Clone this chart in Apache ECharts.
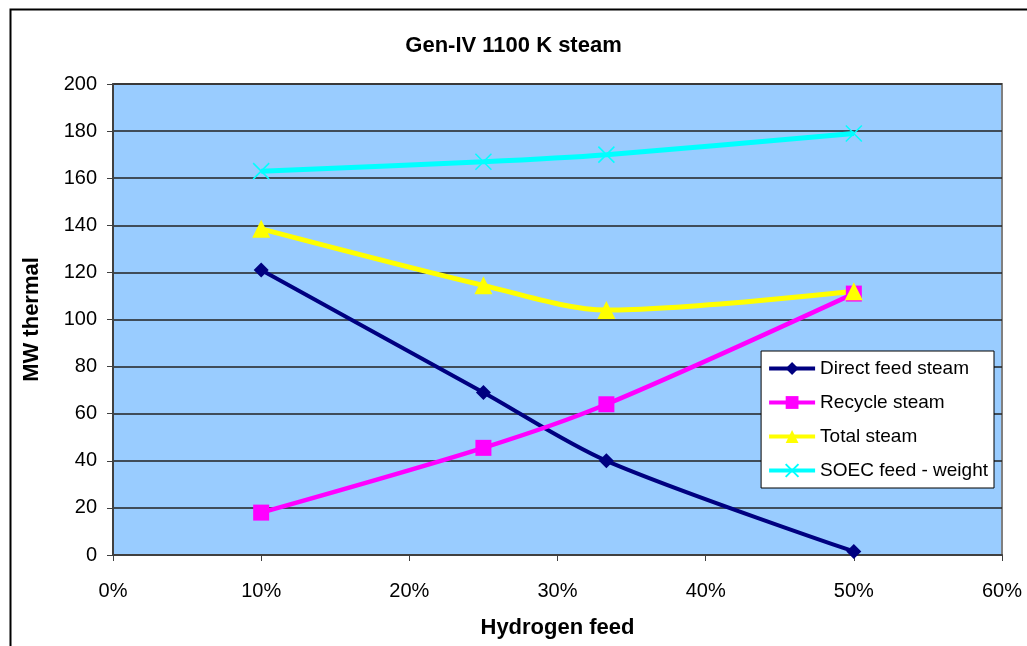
<!DOCTYPE html>
<html>
<head>
<meta charset="utf-8">
<script src="https://cdn.jsdelivr.net/npm/echarts@6/dist/echarts.min.js"></script>
<style>
  html, body { margin: 0; padding: 0; background: #fff; }
  #chart { width: 1027px; height: 646px; }
</style>
</head>
<body>
<div id="chart"></div>
<script>
  // hydrogen feed fraction (%)
  var feed = [10, 25, 33.3, 50];
  var directFeed = [121, 69, 40, 1.5];
  var recycle = [18, 45.5, 64, 111];
  var totalSteam = [138.5, 114.5, 104, 112];
  var soecFeed = [163, 167, 170, 179];

  function pairs(ys) {
    return feed.map(function (x, i) { return [x, ys[i]]; });
  }

  var font = 'Liberation Sans, Arial, sans-serif';
  var chart = echarts.init(document.getElementById('chart'));

  var option = {
    animation: false,
    backgroundColor: '#fff',
    textStyle: { fontFamily: font },
    graphic: [
      // outer chart frame
      {
        type: 'rect', left: 8, top: 7, z: -1,
        shape: { width: 1040, height: 700 },
        style: { fill: 'none', stroke: '#000', lineWidth: 2 }
      }
    ],
    title: {
      text: 'Gen-IV 1100 K steam',
      left: 'center', top: 30,
      textStyle: { fontFamily: font, fontSize: 22, fontWeight: 'bold', color: '#000' }
    },
    grid: {
      left: 113, top: 84, right: 25, bottom: 91,
      show: true, backgroundColor: '#99ccff', borderColor: '#808080', borderWidth: 2
    },
    legend: {
      orient: 'vertical',
      right: 33, top: 351,
      backgroundColor: '#fff', borderColor: '#000', borderWidth: 1,
      padding: [8, 6, 8, 6],
      itemGap: 15,
      itemWidth: 46, itemHeight: 16,
      lineStyle: { width: 4 },
      textStyle: { fontFamily: font, fontSize: 19, color: '#000' },
      data: ['Direct feed steam', 'Recycle steam', 'Total steam', 'SOEC feed - weight']
    },
    xAxis: {
      type: 'value', min: 0, max: 60, interval: 10,
      name: 'Hydrogen feed', nameLocation: 'middle', nameGap: 62,
      nameTextStyle: { fontFamily: font, fontSize: 22, fontWeight: 'bold', color: '#000' },
      axisLine: { lineStyle: { color: '#404040', width: 2 } },
      axisTick: { show: true, length: 6, lineStyle: { color: '#404040' } },
      axisLabel: { formatter: '{value}%', fontSize: 20, color: '#000', margin: 26, fontFamily: font },
      splitLine: { show: false }
    },
    yAxis: {
      type: 'value', min: 0, max: 200, interval: 20,
      name: 'MW thermal', nameLocation: 'middle', nameGap: 70, nameRotate: 90,
      nameTextStyle: { fontFamily: font, fontSize: 22, fontWeight: 'bold', color: '#000' },
      axisLine: { show: true, lineStyle: { color: '#404040', width: 2 } },
      axisTick: { show: true, length: 6, lineStyle: { color: '#404040' } },
      axisLabel: { fontSize: 20, color: '#000', margin: 16, fontFamily: font },
      splitLine: { lineStyle: { color: '#222', width: 1.5 } }
    },
    series: [
      {
        name: 'Direct feed steam', type: 'line', smooth: 0.3,
        data: pairs(directFeed),
        symbol: 'diamond', symbolSize: 15,
        lineStyle: { color: '#000080', width: 4 },
        itemStyle: { color: '#000080' }
      },
      {
        name: 'Recycle steam', type: 'line', smooth: 0.3,
        data: pairs(recycle),
        symbol: 'rect', symbolSize: 16,
        lineStyle: { color: '#ff00ff', width: 4.5 },
        itemStyle: { color: '#ff00ff' }
      },
      {
        name: 'Total steam', type: 'line', smooth: 0.3,
        data: pairs(totalSteam),
        symbol: 'triangle', symbolSize: 18,
        lineStyle: { color: '#ffff00', width: 5 },
        itemStyle: { color: '#ffff00' }
      },
      {
        name: 'SOEC feed - weight', type: 'line', smooth: 0.3,
        data: pairs(soecFeed),
        symbol: 'path://M0,0 L10,10 M10,0 L0,10', symbolSize: 16,
        lineStyle: { color: '#00ffff', width: 5 },
        itemStyle: { color: 'none', borderColor: '#00ffff', borderWidth: 1.5 }
      }
    ]
  };

  chart.setOption(option);
</script>
</body>
</html>
